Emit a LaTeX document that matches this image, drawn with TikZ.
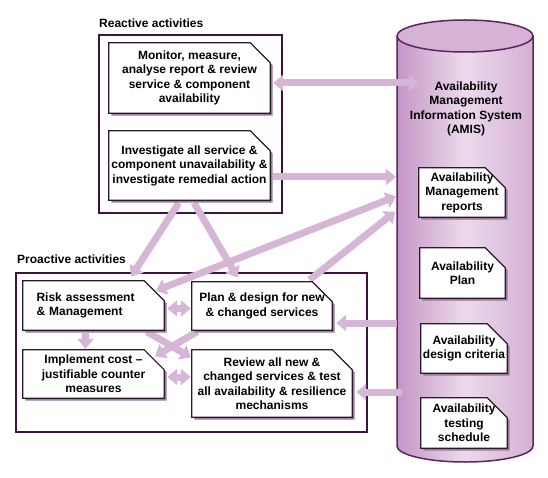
\documentclass[tikz,border=0pt]{standalone}
\usepackage{fontspec}
\setmainfont{Liberation Sans}
\usetikzlibrary{arrows.meta}

\definecolor{arrowpink}{RGB}{214,182,214}
\definecolor{framecol}{RGB}{60,20,60}
\definecolor{boxedge}{RGB}{45,25,45}
\definecolor{shadowcol}{RGB}{150,122,150}
\definecolor{cylleft}{RGB}{198,150,198}
\definecolor{cylmid}{RGB}{236,218,236}
\definecolor{cylright}{RGB}{212,176,212}
\definecolor{cyltop}{RGB}{214,178,214}
\definecolor{cyledge}{RGB}{95,35,95}

\pgfdeclarelayer{bg}
\pgfdeclarelayer{arrowlayer}
\pgfdeclarelayer{boxlayer}
\pgfsetlayers{bg,arrowlayer,boxlayer,main}

\def\cutsz{20pt}
% box with cut top right corner and a shadow
\newcommand\cutbox[1]{%
  \fill[shadowcol] ([shift={(2.5pt,-2.5pt)}]#1.north west) -- ([shift={(2.5pt,-2.5pt)},xshift=-\cutsz]#1.north east)
    -- ([shift={(2.5pt,-2.5pt)},yshift=-\cutsz]#1.north east) -- ([shift={(2.5pt,-2.5pt)}]#1.south east)
    -- ([shift={(2.5pt,-2.5pt)}]#1.south west) -- cycle;
  \filldraw[fill=white,draw=boxedge,line width=1.2pt] (#1.north west) -- ([xshift=-\cutsz]#1.north east)
    -- ([yshift=-\cutsz]#1.north east) -- (#1.south east) -- (#1.south west) -- cycle;}

\begin{document}
\begin{tikzpicture}[x=1pt,y=-1pt,
    txt/.style={font=\bfseries\fontsize{12}{14.5}\selectfont,align=center,inner sep=0pt},
    frame/.style={draw=framecol,line width=1.8pt},
    link/.style={draw=arrowpink,line width=7pt,shorten <=3pt,shorten >=1pt,-{Triangle[width=16pt,length=10pt]}},
    twoway/.style={link,{Triangle[width=16pt,length=10pt]}-{Triangle[width=16pt,length=10pt]}}]
  \useasboundingbox (0,0) rectangle (548,478);

  % labels
  \node[txt,anchor=west] (reactlbl) at (99,23) {Reactive activities};
  \node[txt,anchor=west] (proactlbl) at (17,259) {Proactive activities};
  \node[txt] (amis) at (466,109) {Availability\\Management\\Information System\\(AMIS)};

  % activity boxes
  \node[txt,minimum width=161pt,minimum height=70pt] (monitor) at (189.5,78)
    {Monitor, measure,\\analyse report \& review\\service \& component\\availability};
  \node[txt,minimum width=161pt,minimum height=69pt] (investigate) at (189.5,165.5)
    {Investigate all service \&\\component unavailability \&\\investigate remedial action};
  \node[txt,minimum width=141pt,minimum height=49pt,text width=114pt,align=left] (risk) at (93.5,305.5)
    {Risk assessment\\\& Management};
  \node[txt,minimum width=140pt,minimum height=48pt] (plan) at (262,306)
    {Plan \& design for new\\\& changed services};
  \node[txt,minimum width=141pt,minimum height=48pt] (implement) at (93.5,374)
    {Implement cost --\\justifiable counter\\measures};
  \node[txt,minimum width=160pt,minimum height=67pt] (review) at (272,383.5)
    {Review all new \&\\changed services \& test\\all availability \& resilience\\mechanisms};

  % boxes in the AMIS
  \node[txt,minimum width=86pt,minimum height=49pt] (reports) at (462,192.5) {Availability\\Management\\reports};
  \node[txt,minimum width=85pt,minimum height=50pt] (aplan) at (462.5,273) {Availability\\Plan};
  \node[txt,minimum width=86pt,minimum height=49pt] (criteria) at (464,348.5) {Availability\\design criteria};
  \node[txt,minimum width=86pt,minimum height=50pt] (testing) at (464,423) {Availability\\testing\\schedule};

  \coordinate (amisin) at (420,83);
  \coordinate (cylA) at (397,177);
  \coordinate (cylB) at (397,196);
  \coordinate (cylC) at (396,211);
  \coordinate (cylD) at (400,323);
  \coordinate (cylE) at (405,392);

  \begin{pgfonlayer}{bg}
    \draw[frame] (99,35) rectangle (282,213);
    \draw[frame] (16,273) rectangle (367,432);
    \shade[left color=cylleft,right color=cylright,middle color=cylmid]
      (397,36) -- (397,446) arc[start angle=180,end angle=0,x radius=68,y radius=16] -- (533,36) -- cycle;
    \draw[cyledge,line width=1.5pt]
      (397,36) -- (397,446) arc[start angle=180,end angle=0,x radius=68,y radius=16] -- (533,36);
    \filldraw[fill=cyltop,draw=cyledge,line width=1.5pt] (465,36) ellipse[x radius=68,y radius=16];
  \end{pgfonlayer}

  \begin{pgfonlayer}{arrowlayer}
    \draw[twoway] (monitor.east |- amisin) -- (amisin);
    \draw[link] (investigate.east |- cylA) -- (cylA);
    \draw[link,shorten >=5pt] ([xshift=-9pt]investigate.south) -- ([xshift=35pt]risk.north);
    \draw[link,shorten >=5pt] ([xshift=3pt]investigate.south) -- ([xshift=-22pt]plan.north);
    \draw[twoway] ([shift={(-11pt,-11pt)}]risk.north east) -- (cylB);
    \draw[link] ([xshift=-25pt]plan.north east) -- (cylC);
    \draw[twoway] ([yshift=-3pt]risk.east) -- ([yshift=-3pt]risk.east -| plan.west);
    \draw[link] ([xshift=-8pt]risk.south) -- ([xshift=-8pt]implement.north);
    \draw[link] ([xshift=-20pt]risk.south east) -- ([yshift=-8pt]review.north west);
    \draw[link] ([xshift=8pt]plan.south west) -- ([shift={(-10pt,-7pt)}]implement.north east);
    \draw[twoway] ([yshift=-3pt]implement.east) -- ([yshift=-3pt]implement.east -| review.west);
    \draw[link,shorten >=4pt] (cylD) -- (cylD -| plan.east);
    \draw[link,shorten >=4pt] (cylE) -- (cylE -| review.east);
  \end{pgfonlayer}

  \begin{pgfonlayer}{boxlayer}
    \foreach \b in {monitor,investigate,risk,plan,implement,review,reports,aplan,criteria,testing}
      {\cutbox{\b}}
  \end{pgfonlayer}
\end{tikzpicture}
\end{document}
